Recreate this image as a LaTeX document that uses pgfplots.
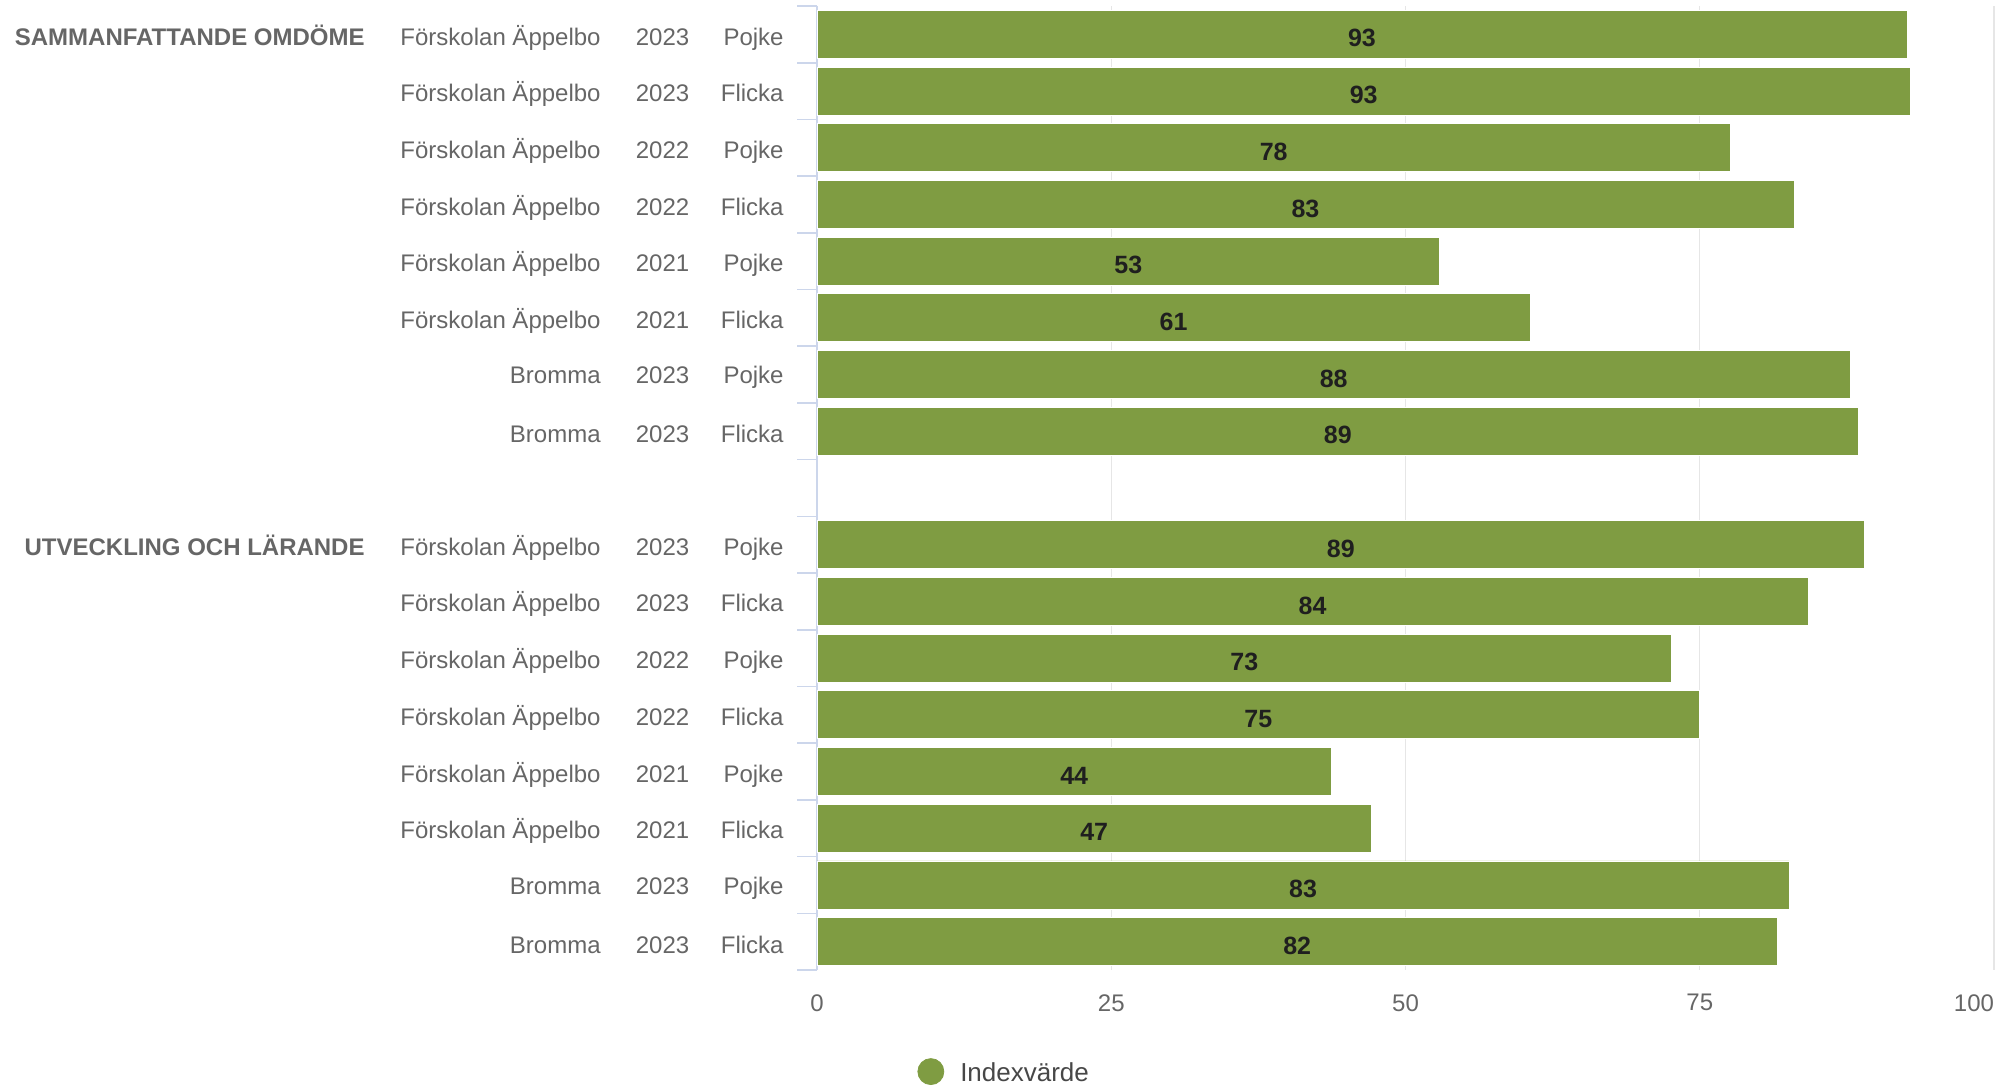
\documentclass[border=0pt]{standalone}
\usepackage{fontspec}
\setmainfont{Liberation Sans}
\usepackage{pgfplots}
\usepackage{pgfplotstable}
\pgfplotsset{compat=1.18}

\definecolor{bargreen}{HTML}{7F9C42}
\definecolor{lbl}{HTML}{666666}
\definecolor{axisblue}{HTML}{CCD6EB}
\definecolor{gridgray}{HTML}{E6E6E6}

% rows from bottom (0) to top (16); row 8 is the gap between groups
\pgfplotstableread{
y  v    lab
16 92.6 93
15 92.9 93
14 77.6 78
13 83.0 83
12 52.9 53
11 60.6 61
10 87.8 88
9  88.5 89
7  89.0 89
6  84.2 84
5  72.6 73
4  75.0 75
3  43.7 44
2  47.1 47
1  82.6 83
0  81.6 82
}\scores

\newcommand{\cat}[3]{\llap{#1}\hspace{31pt}\makebox[0pt][c]{#2}\hspace{60.5pt}\llap{#3}}
\newcommand{\grp}[1]{\llap{\textbf{#1}\hspace{118pt}}}

\begin{document}
\begin{tikzpicture}
\path[use as bounding box] (0,0) rectangle (1006.5pt,544.5pt);
\begin{axis}[
    at={(408.5pt,59.5pt)}, anchor=south west,
    scale only axis,
    width=588.5pt, height=482pt,
    xmin=0, xmax=100,
    ymin=-0.5, ymax=16.5,
    axis x line*=bottom,
    axis y line*=left,
    x axis line style={draw=none},
    y axis line style={draw=axisblue, line width=0.8pt},
    xmajorgrids,
    major grid style={draw=gridgray, line width=0.6pt},
    xtick={0,25,50,75,100},
    xticklabels={0,25,50,75,\llap{100}},
    xtick style={draw=none},
    xticklabel style={font=\fontsize{12}{14}\selectfont, text=lbl, inner sep=0pt, yshift=-12pt},
    ytick={0,...,7,9,10,...,16},
    yticklabels={
        {\cat{Bromma}{2023}{Flicka}},
        {\cat{Bromma}{2023}{Pojke}},
        {\cat{Förskolan Äppelbo}{2021}{Flicka}},
        {\cat{Förskolan Äppelbo}{2021}{Pojke}},
        {\cat{Förskolan Äppelbo}{2022}{Flicka}},
        {\cat{Förskolan Äppelbo}{2022}{Pojke}},
        {\cat{Förskolan Äppelbo}{2023}{Flicka}},
        {\grp{UTVECKLING OCH LÄRANDE}\cat{Förskolan Äppelbo}{2023}{Pojke}},
        {\cat{Bromma}{2023}{Flicka}},
        {\cat{Bromma}{2023}{Pojke}},
        {\cat{Förskolan Äppelbo}{2021}{Flicka}},
        {\cat{Förskolan Äppelbo}{2021}{Pojke}},
        {\cat{Förskolan Äppelbo}{2022}{Flicka}},
        {\cat{Förskolan Äppelbo}{2022}{Pojke}},
        {\cat{Förskolan Äppelbo}{2023}{Flicka}},
        {\grp{SAMMANFATTANDE OMDÖME}\cat{Förskolan Äppelbo}{2023}{Pojke}}
    },
    ytick style={draw=none},
    yticklabel style={font=\fontsize{12}{14}\selectfont, text=lbl, anchor=east, inner sep=0pt, xshift=-16.5pt, yshift=-1.5pt},
    extra y ticks={-0.5,0.5,...,16.5},
    extra y tick labels={},
    extra y tick style={tick align=outside, major tick length=10pt,
        ytick style={draw=axisblue, line width=0.8pt}},
    /pgf/number format/assume math mode=true,
    legend style={at={(axis description cs:0.085,-0.1054)}, anchor=west,
        draw=none, fill=none, inner sep=0pt,
        font=\fontsize{13}{15}\selectfont, text=lbl!70!black,
        nodes={inner sep=0pt},
        /tikz/every odd column/.append style={column sep=8pt}},
]
\addplot[xbar, bar width=24pt, fill=bargreen, draw=white, line width=0.4pt,
    legend image code/.code={\fill[bargreen] (6.5pt,1.2pt) circle (6.5pt);}]
    table[x=v, y=y] {\scores};
\addlegendentry{Indexvärde}
\addplot[only marks, mark=none, forget plot,
    nodes near coords, point meta=explicit symbolic,
    every node near coord/.append style={anchor=center, yshift=-2pt, font=\bfseries\fontsize{12.5}{14}\selectfont, text=black!88}]
    table[x expr=\thisrow{v}/2, y=y, meta=lab] {\scores};
\end{axis}
\end{tikzpicture}
\end{document}
